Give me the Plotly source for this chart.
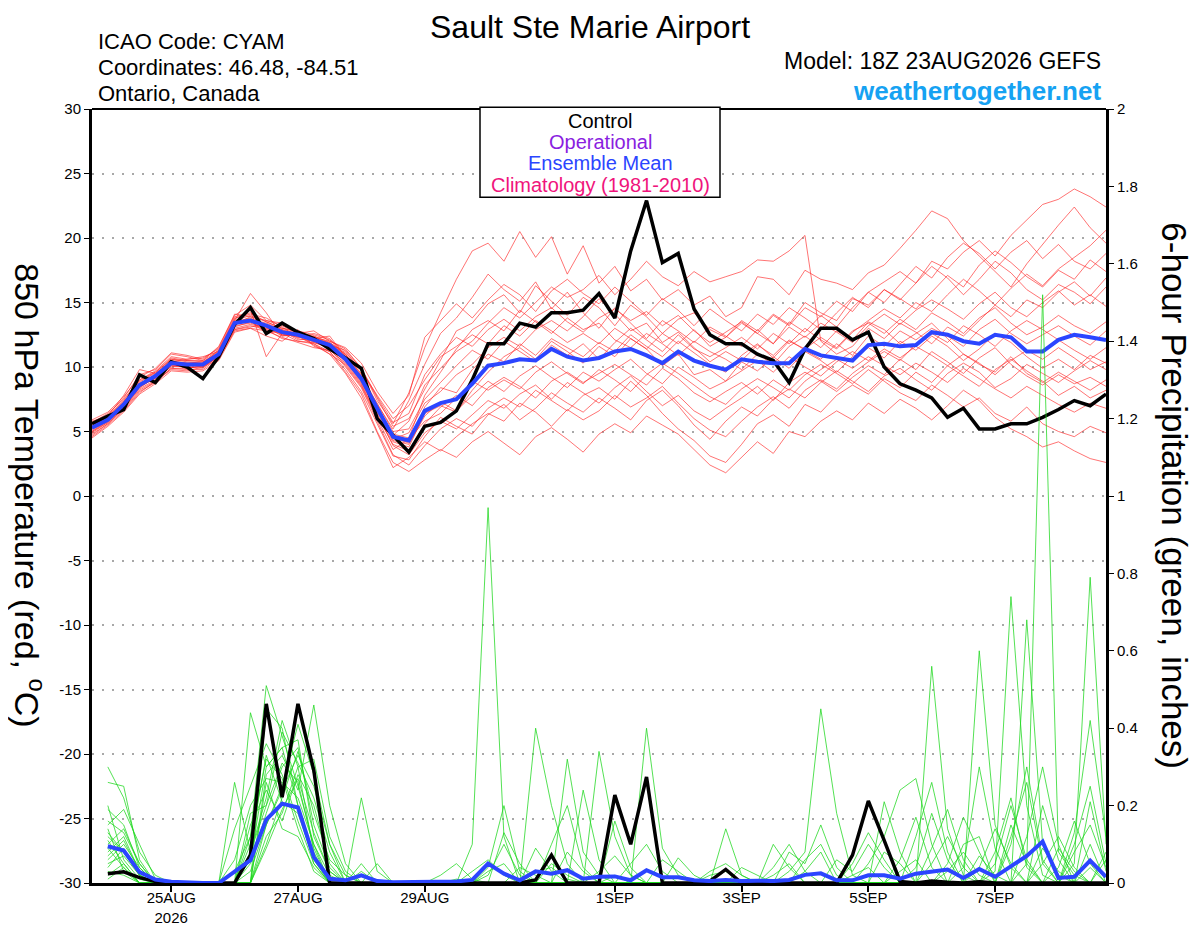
import pandas as pd
import plotly.graph_objects as go

# 6-hourly GEFS steps, 18Z 23 Aug 2026 -> 18Z 8 Sep 2026
times = pd.date_range("2026-08-23 18:00", periods=65, freq="6h")

tick_dates = ["2026-08-25", "2026-08-27", "2026-08-29", "2026-09-01",
              "2026-09-03", "2026-09-05", "2026-09-07"]
tick_text = ["25AUG<br>2026", "27AUG", "29AUG", "1SEP", "3SEP", "5SEP", "7SEP"]
temp_ticks = list(range(-30, 31, 5))
temp_tick_text = [str(v) for v in temp_ticks]  # plain hyphen, not unicode minus

# 850 hPa temperature (C)
control_t = [5.6, 6.2, 6.7, 9.4, 8.8, 10.4, 10.0, 9.1, 10.8, 13.3,
             14.6, 12.6, 13.4, 12.7, 12.2, 11.4, 10.7, 9.9, 6.0, 4.7,
             3.4, 5.4, 5.7, 6.6, 9.0, 11.8, 11.8, 13.4, 13.1, 14.2,
             14.2, 14.4, 15.7, 13.8, 19.0, 22.9, 18.1, 18.8, 14.5, 12.5,
             11.8, 11.8, 11.0, 10.5, 8.8, 11.4, 13.0, 13.0, 12.1, 12.7,
             10.0, 8.7, 8.2, 7.6, 6.1, 6.8, 5.2, 5.2, 5.6, 5.6,
             6.1, 6.7, 7.4, 7.0, 7.9]
mean_t = [5.3, 5.9, 7.1, 8.6, 9.3, 10.3, 10.2, 10.2, 11.0, 13.4,
          13.6, 13.2, 12.7, 12.5, 12.1, 11.7, 10.6, 9.1, 6.8, 4.6,
          4.3, 6.6, 7.2, 7.5, 8.7, 10.1, 10.3, 10.6, 10.5, 11.4,
          10.8, 10.5, 10.7, 11.2, 11.4, 10.9, 10.3, 11.2, 10.5, 10.1,
          9.8, 10.6, 10.4, 10.3, 10.3, 11.4, 10.9, 10.7, 10.5, 11.7,
          11.8, 11.6, 11.7, 12.7, 12.5, 12.0, 11.8, 12.5, 12.3, 11.2,
          11.2, 12.1, 12.5, 12.3, 12.1]

t_m01 = [5.6, 6.3, 7.6, 9.4, 9.8, 11.0, 10.8, 10.5, 11.6, 14.0, 14.8, 13.6, 13.2, 12.6, 12.8, 12.0,
         11.4, 9.9, 7.4, 5.6, 8.0,
         11.5, 14.2, 16.8, 19.0, 19.6, 18.2, 20.5, 18.5, 20.1, 17.2,
         19.4, 16.5, 17.8, 15.9, 16.8, 15.2, 16.0, 14.8, 15.5, 13.9,
         14.6, 17.0, 16.8, 15.6, 17.5, 16.8, 16.5, 16.0, 17.3, 17.9,
         19.2, 20.6, 22.1, 21.5, 19.8, 18.6, 17.4, 16.2, 18.0, 19.5,
         21.0, 22.4, 20.8, 19.6]
t_m02 = [4.6, 5.5, 6.6, 8.0, 8.9, 9.8, 9.7, 10.0, 10.6, 12.8, 13.0, 12.4, 12.0, 12.9, 11.6, 11.2,
         9.6, 7.9, 5.0, 2.6, 1.9,
         2.8, 3.6, 3.0, 4.2, 5.0, 4.1, 3.2, 4.6, 5.3, 4.4,
         3.4, 4.8, 5.6, 4.9, 6.2, 5.5, 4.8, 3.6, 2.4, 1.8,
         3.0, 4.2, 3.3, 5.0, 4.6, 5.8, 6.6, 5.9, 7.2, 6.4,
         7.5, 6.8, 5.9, 7.0, 8.2, 7.4, 6.1, 5.2, 4.6, 3.8,
         4.2, 3.5, 2.9, 2.6]
t_m03 = [5.4, 6.1, 7.3, 8.8, 9.6, 10.6, 10.4, 10.3, 11.3, 13.8, 14.1, 13.8, 13.1, 12.3, 12.4, 11.9,
         11.1, 9.8, 7.6, 5.4, 6.0,
         8.3, 10.5, 12.8, 13.4, 14.9, 15.6, 14.2, 16.3, 15.1, 14.0,
         15.4, 14.6, 13.2, 14.8, 13.9, 12.6, 13.7, 14.2, 12.9, 12.3,
         13.6, 12.8, 14.1, 13.3, 15.0, 14.2, 13.6, 15.3, 14.8, 16.0,
         15.2, 16.5, 17.8, 16.9, 15.6, 16.8, 18.2, 17.3, 16.0, 15.2,
         16.4, 15.8, 14.9, 16.2]
t_m04 = [5.0, 5.8, 6.9, 8.3, 9.0, 10.1, 10.0, 9.9, 10.9, 13.1, 13.5, 12.9, 12.6, 12.0, 11.8, 11.0,
         10.2, 8.6, 6.1, 4.2, 3.8,
         6.4, 7.0, 6.5, 8.2, 9.6, 10.8, 11.5, 10.6, 12.0, 11.2,
         10.3, 11.6, 10.8, 12.2, 11.4, 10.1, 11.0, 9.4, 9.8, 8.9,
         10.4, 9.7, 10.8, 9.9, 11.2, 10.5, 9.6, 10.8, 11.5, 10.7,
         12.0, 11.3, 12.4, 11.6, 10.5, 11.4, 12.6, 11.9, 10.8, 9.9,
         10.6, 9.8, 10.9, 10.3]
t_m05 = [5.8, 6.2, 7.8, 9.8, 9.5, 10.4, 10.6, 10.8, 11.2, 13.6, 15.7, 14.2, 12.4, 12.5, 12.2, 12.4,
         10.8, 9.2, 6.6, 4.8, 4.5,
         7.8, 9.6, 11.4, 12.9, 13.6, 12.8, 14.4, 13.5, 12.6, 13.8,
         12.9, 13.4, 12.1, 11.5, 12.6, 11.8, 10.9, 12.0, 11.2, 10.6,
         9.8, 11.0, 10.2, 11.6, 12.4, 11.5, 12.8, 12.1, 13.5, 12.9,
         11.8, 12.6, 13.4, 12.2, 11.0, 10.2, 9.6, 10.8, 9.5, 8.8,
         9.6, 8.9, 8.2, 9.0]
t_m06 = [4.9, 5.7, 6.8, 8.4, 9.2, 10.2, 9.9, 10.1, 10.8, 13.2, 13.4, 13.0, 12.8, 12.6, 11.9, 11.5,
         10.4, 8.8, 6.4, 3.9, 3.2,
         4.9, 5.8, 5.2, 6.3, 7.4, 6.8, 7.9, 8.6, 7.5, 8.8,
         8.0, 7.2, 8.4, 9.3, 8.1, 7.0, 7.8, 6.6, 5.9, 6.8,
         7.6, 8.5, 7.4, 8.8, 9.6, 8.9, 8.1, 9.2, 10.1, 9.4,
         10.6, 9.8, 11.2, 10.4, 9.5, 10.7, 11.5, 10.2, 9.3, 8.6,
         9.4, 8.7, 9.2, 8.5]
t_m07 = [5.5, 6.0, 7.2, 8.5, 9.4, 10.5, 10.3, 10.4, 11.1, 13.5, 13.8, 13.1, 12.4, 12.7, 12.3, 11.8,
         10.9, 9.5, 7.1, 5.2, 7.4,
         10.2, 12.6, 13.8, 15.4, 17.2, 16.0, 15.1, 16.6, 14.5, 15.8,
         14.2, 13.0, 14.6, 13.4, 12.2, 13.6, 12.8, 11.9, 13.1, 12.4,
         11.6, 12.9, 11.8, 13.5, 12.7, 14.0, 13.1, 14.6, 15.8, 15.0,
         16.4, 17.8, 16.9, 18.5, 19.6, 18.8, 17.6, 18.9, 19.8, 18.4,
         19.5, 18.2, 17.6, 18.8]
t_m08 = [5.2, 6.0, 7.0, 8.7, 9.1, 10.0, 10.2, 10.0, 11.0, 13.3, 13.7, 13.4, 12.9, 12.2, 12.0, 11.4,
         10.0, 8.4, 5.8, 3.2, 2.4,
         3.9, 5.2, 6.0, 5.4, 6.8, 7.6, 6.9, 8.2, 7.4, 6.6,
         7.8, 8.4, 7.5, 8.9, 7.8, 6.4, 5.2, 4.3, 3.1, 2.6,
         4.0, 5.6, 6.3, 5.4, 7.1, 6.5, 7.8, 8.6, 7.9, 9.1,
         8.4, 9.6, 8.8, 10.1, 9.3, 8.5, 9.8, 10.6, 9.7, 8.9,
         7.8, 8.5, 7.6, 8.2]
t_m09 = [5.7, 6.4, 7.5, 9.0, 9.7, 10.8, 10.6, 10.7, 11.4, 13.9, 14.2, 13.5, 13.0, 12.8, 12.5, 12.1,
         11.2, 9.7, 7.8, 6.0, 7.0,
         9.0, 10.8, 11.6, 12.5, 11.8, 13.2, 12.4, 13.6, 12.8, 11.9,
         12.6, 11.8, 13.0, 12.2, 11.4, 12.6, 11.8, 12.9, 11.6, 12.3,
         13.4, 12.6, 14.0, 13.2, 14.6, 13.9, 15.1, 14.3, 15.8, 16.6,
         17.4, 16.5, 18.2, 17.6, 18.9, 19.8, 18.6, 20.2, 21.4, 22.6,
         23.0, 23.8, 23.2, 22.4]
t_m10 = [4.8, 5.6, 6.7, 8.1, 8.8, 9.9, 9.8, 9.8, 10.7, 12.9, 13.1, 13.3, 12.5, 12.4, 11.7, 11.0,
         9.5, 7.6, 4.9, 2.2, 3.0,
         4.2, 3.5, 4.6, 5.6, 6.4, 5.8, 7.2, 6.5, 5.4, 6.7,
         5.9, 6.6, 7.8, 6.9, 7.6, 8.5, 7.2, 6.0, 5.1, 4.6,
         5.8, 6.9, 7.7, 6.8, 8.2, 9.0, 8.3, 9.5, 10.4, 11.2,
         10.5, 11.8, 12.6, 11.9, 13.2, 12.5, 11.6, 12.8, 13.6, 12.9,
         12.1, 11.3, 10.6, 11.5]
t_m11 = [5.3, 5.9, 7.1, 8.6, 9.3, 10.3, 10.1, 10.2, 11.0, 13.4, 13.6, 12.6, 12.8, 12.1, 12.2, 11.6,
         10.6, 9.0, 6.9, 4.4, 4.9,
         7.2, 8.1, 9.4, 10.2, 11.5, 12.3, 11.6, 12.9, 13.6, 12.8,
         13.9, 15.3, 14.1, 12.8, 13.4, 11.9, 12.7, 11.5, 10.4, 11.2,
         10.5, 11.7, 10.9, 12.1, 11.3, 10.6, 11.8, 10.9, 12.4, 11.6,
         12.8, 12.1, 13.0, 12.4, 11.6, 12.9, 13.7, 12.6, 11.8, 12.5,
         13.2, 12.4, 11.7, 12.8]
t_m12 = [5.9, 6.5, 7.7, 9.2, 9.9, 11.1, 10.9, 10.6, 11.5, 14.1, 13.9, 13.2, 12.7, 12.5, 12.4, 11.8,
         11.0, 9.3, 7.0, 4.7, 5.8,
         8.6, 9.9, 11.2, 12.0, 13.4, 14.6, 13.8, 15.0, 16.2, 15.4,
         16.0, 17.1, 15.6, 16.8, 18.2, 17.0, 16.3, 17.4, 16.6, 17.0,
         17.4, 18.3, 18.2, 19.0, 20.2, 12.0, 11.0, 11.6, 13.0, 12.2,
         13.4, 12.7, 11.8, 13.1, 12.4, 13.6, 14.8, 13.9, 15.2, 14.6,
         15.8, 16.6, 15.5, 16.9]
t_m13 = [4.5, 5.4, 6.5, 7.9, 8.7, 9.7, 9.6, 9.7, 10.5, 12.7, 13.0, 12.8, 12.3, 11.9, 11.5, 11.3,
         10.3, 8.7, 6.2, 4.0, 3.5,
         5.6, 6.9, 7.8, 7.0, 8.4, 9.2, 8.5, 7.6, 8.9, 9.6,
         8.8, 9.5, 10.2, 9.4, 8.6, 9.9, 9.1, 8.0, 7.3, 8.1,
         8.8, 7.9, 9.0, 8.2, 9.4, 10.2, 9.5, 8.7, 9.8, 8.9,
         8.0, 7.4, 8.6, 7.8, 6.9, 7.6, 6.4, 5.8, 6.9, 5.6,
         5.0, 4.6, 5.4, 4.9]
t_m14 = [5.1, 5.8, 7.0, 8.4, 9.2, 10.2, 10.0, 10.3, 10.9, 13.3, 13.9, 13.6, 13.4, 12.6, 12.1, 11.9,
         11.0, 9.4, 6.8, 4.5, 4.1,
         6.9, 8.4, 8.0, 9.8, 11.0, 10.4, 11.8, 10.9, 12.2, 11.5,
         10.8, 11.9, 11.2, 12.5, 11.6, 10.8, 12.0, 11.1, 10.2, 9.6,
         10.9, 11.8, 10.7, 12.0, 11.4, 12.3, 11.5, 12.8, 13.4, 12.6,
         13.7, 12.9, 14.2, 13.5, 12.6, 13.8, 14.6, 13.4, 12.5, 13.1,
         14.0, 13.2, 12.6, 13.5]
t_m15 = [5.4, 6.1, 7.3, 8.9, 9.5, 10.6, 10.5, 10.4, 11.2, 13.7, 14.4, 10.8, 12.6, 12.3, 12.6, 12.2,
         10.8, 9.1, 7.2, 5.0, 5.2,
         7.5, 8.8, 10.1, 11.3, 10.6, 12.0, 11.2, 10.4, 11.7, 10.9,
         11.8, 10.6, 11.9, 13.0, 12.1, 11.2, 12.5, 11.4, 10.8, 11.5,
         12.3, 11.4, 12.6, 11.8, 13.0, 12.1, 11.4, 12.7, 13.6, 14.5,
         13.8, 15.0, 14.3, 15.6, 16.8, 15.9, 14.8, 16.1, 17.2, 16.3,
         17.6, 18.5, 19.4, 20.6]
t_m16 = [5.0, 5.7, 6.9, 8.5, 9.1, 10.1, 10.0, 10.0, 10.8, 13.0, 13.3, 13.0, 12.5, 12.4, 11.8, 11.2,
         9.8, 8.1, 5.6, 3.1, 2.8,
         4.6, 6.1, 5.4, 4.8, 6.3, 7.1, 5.9, 6.8, 8.0, 7.2,
         6.5, 7.6, 6.8, 5.9, 7.4, 8.2, 7.0, 5.5, 4.4, 5.8,
         6.9, 6.2, 7.5, 8.3, 7.6, 8.8, 9.7, 8.9, 8.1, 9.3,
         9.9, 9.0, 8.2, 9.5, 10.3, 9.6, 8.4, 9.1, 10.2, 9.5,
         8.8, 9.7, 10.5, 9.8]
t_m17 = [5.6, 6.2, 7.4, 9.0, 9.6, 10.7, 10.5, 10.5, 11.3, 13.6, 14.0, 13.5, 13.0, 12.7, 12.3, 12.0,
         11.5, 10.3, 8.1, 6.4, 7.8,
         12.3, 13.6, 14.9, 13.8, 15.2, 16.4, 15.6, 14.3, 15.9, 16.8,
         15.7, 14.9, 16.2, 15.1, 14.0, 15.3, 14.4, 13.2, 14.5, 13.6,
         12.8, 14.1, 13.3, 14.6, 13.8, 12.9, 14.2, 15.4, 14.6, 16.0,
         15.3, 14.5, 15.8, 17.1, 16.2, 17.9, 19.0, 18.1, 17.0, 16.2,
         17.5, 16.8, 18.3, 17.4]
t_m18 = [4.7, 5.6, 6.8, 8.2, 8.9, 9.9, 9.9, 10.1, 10.7, 12.9, 13.2, 12.9, 12.2, 12.0, 11.9, 11.5,
         10.5, 8.9, 6.5, 4.3, 4.0,
         6.2, 7.3, 6.6, 7.8, 8.9, 8.1, 9.3, 10.1, 9.2, 8.4,
         9.6, 8.9, 9.8, 10.6, 9.5, 8.7, 10.0, 9.2, 8.3, 8.9,
         9.7, 10.5, 9.6, 10.8, 10.0, 9.3, 10.4, 11.2, 10.5, 11.4,
         10.7, 11.6, 10.9, 10.1, 11.0, 10.3, 9.4, 10.5, 11.3, 10.6,
         11.5, 10.7, 9.8, 10.4]
t_m19 = [5.3, 6.0, 7.2, 8.7, 9.4, 10.4, 10.3, 10.2, 11.1, 13.5, 13.7, 13.3, 12.9, 12.6, 12.3, 11.7,
         11.3, 9.9, 7.7, 5.7, 6.4,
         9.4, 11.0, 12.3, 11.6, 12.9, 13.7, 12.8, 13.9, 14.6, 13.5,
         12.7, 13.8, 14.5, 13.6, 14.3, 13.2, 14.0, 12.8, 11.9, 12.7,
         13.5, 12.6, 11.8, 13.1, 12.3, 13.4, 12.7, 11.9, 13.2, 14.1,
         13.3, 14.4, 15.2, 14.5, 13.7, 14.9, 15.8, 14.6, 13.9, 15.0,
         15.9, 14.8, 15.6, 14.7]
t_m20 = [5.2, 5.9, 7.0, 8.6, 9.2, 10.3, 10.2, 10.2, 11.0, 13.4, 13.6, 13.2, 12.7, 12.5, 12.0, 11.6,
         10.1, 8.5, 6.0, 3.6, 4.4,
         5.8, 6.4, 7.6, 8.9, 8.2, 9.0, 8.3, 9.6, 10.4, 9.5,
         8.7, 9.8, 9.0, 8.1, 9.4, 10.3, 9.5, 8.6, 7.7, 7.1,
         8.3, 9.1, 8.4, 7.6, 8.9, 9.8, 10.6, 9.9, 10.8, 10.1,
         9.4, 10.3, 9.6, 8.8, 9.9, 9.1, 8.3, 7.6, 8.5, 7.8,
         7.1, 6.5, 7.2, 6.8]

temp_members = [t_m01, t_m02, t_m03, t_m04, t_m05, t_m06, t_m07, t_m08, t_m09, t_m10,
                t_m11, t_m12, t_m13, t_m14, t_m15, t_m16, t_m17, t_m18, t_m19, t_m20]

# 6-hour precipitation (inches), valid from the first 6 h step onward
control_p = [0.024, 0.029, 0.014, 0.004, 0, 0, 0, 0,
             0, 0.072, 0.463, 0.222, 0.463, 0.291, 0, 0,
             0, 0, 0, 0, 0, 0, 0, 0,
             0, 0, 0, 0.008, 0.072, 0, 0, 0,
             0.227, 0.10, 0.274, 0, 0, 0, 0.005, 0.035,
             0, 0, 0, 0, 0, 0, 0, 0.072,
             0.212, 0.11, 0.004, 0, 0.005, 0.002, 0, 0.003,
             0, 0, 0, 0, 0, 0, 0, 0]
mean_p = [0.095, 0.084, 0.028, 0.009, 0.003, 0.001, 0, 0,
          0.028, 0.059, 0.164, 0.205, 0.195, 0.067, 0.011, 0.007,
          0.020, 0.005, 0.002, 0.002, 0.002, 0.003, 0.004, 0.008,
          0.05, 0.024, 0.007, 0.03, 0.024, 0.033, 0.011, 0.016,
          0.017, 0.007, 0.033, 0.015, 0.015, 0.007, 0.005, 0.008,
          0.005, 0.006, 0.005, 0.008, 0.021, 0.025, 0.007, 0.007,
          0.02, 0.02, 0.011, 0.024, 0.03, 0.035, 0.013, 0.036,
          0.016, 0.042, 0.07, 0.107, 0.013, 0.016, 0.058, 0.016]

p_m01 = [0.30, 0.22, 0.08, 0.02, 0, 0, 0, 0, 0, 0.12, 0.51, 0.38, 0.25, 0.10, 0.02, 0,
         0, 0, 0, 0, 0, 0, 0, 0, 0.04, 0.2, 0.03, 0, 0, 0, 0, 0,
         0, 0, 0, 0, 0, 0, 0, 0, 0, 0, 0, 0.03, 0.08, 0.45, 0.18, 0.02,
         0, 0, 0, 0, 0, 0, 0, 0, 0, 0.12, 0.26, 0.05, 0, 0, 0.04, 0]
p_m02 = [0.26, 0.25, 0.06, 0, 0, 0, 0, 0, 0.26, 0.08, 0.22, 0.42, 0.30, 0.08, 0, 0,
         0.22, 0.03, 0, 0, 0, 0, 0, 0.1, 0.97, 0.12, 0, 0, 0, 0, 0, 0,
         0.02, 0, 0, 0, 0, 0, 0, 0, 0, 0, 0, 0, 0, 0, 0, 0,
         0, 0.21, 0.08, 0, 0.56, 0.14, 0.02, 0, 0, 0, 0, 0, 0, 0.05, 0.79, 0.1]
p_m03 = [0.19, 0.15, 0.04, 0, 0, 0, 0, 0, 0, 0.44, 0.30, 0.35, 0.37, 0.12, 0.03, 0,
         0, 0, 0, 0, 0, 0, 0, 0, 0, 0, 0, 0.40, 0.2, 0.05, 0, 0,
         0, 0, 0, 0, 0, 0, 0, 0, 0, 0, 0, 0, 0, 0, 0, 0,
         0.05, 0.12, 0.24, 0.27, 0.1, 0, 0, 0.6, 0.15, 0.04, 0, 0, 0, 0, 0, 0]
p_m04 = [0.15, 0.19, 0.1, 0.01, 0, 0, 0, 0, 0, 0, 0.28, 0.33, 0.24, 0.46, 0.2, 0.05,
         0, 0, 0, 0, 0, 0, 0, 0, 0, 0, 0, 0, 0, 0.32, 0.08, 0.02,
         0, 0, 0, 0, 0, 0, 0, 0, 0, 0, 0, 0, 0, 0, 0, 0,
         0, 0, 0, 0, 0, 0, 0, 0, 0.03, 0.74, 0.2, 0.02, 0, 0, 0, 0.08]
p_m05 = [0.12, 0.08, 0.02, 0, 0, 0, 0, 0, 0.14, 0.25, 0.36, 0.28, 0.16, 0.05, 0, 0,
         0, 0, 0, 0, 0, 0, 0, 0, 0, 0, 0, 0, 0, 0, 0, 0.34,
         0.12, 0.02, 0, 0, 0, 0, 0, 0, 0, 0, 0.1, 0.04, 0, 0, 0, 0,
         0, 0, 0, 0, 0, 0.05, 0.17, 0.08, 0, 0, 0.68, 0.1, 0.02, 0, 0, 0]
p_m06 = [0.1, 0.14, 0.05, 0, 0, 0, 0, 0, 0, 0.18, 0.2, 0.39, 0.31, 0.22, 0.08, 0,
         0, 0, 0, 0, 0, 0, 0, 0, 0, 0, 0, 0, 0, 0, 0, 0,
         0, 0, 0.4, 0.09, 0.02, 0, 0, 0, 0, 0, 0, 0, 0, 0, 0, 0,
         0, 0, 0, 0, 0, 0, 0, 0, 0, 0, 0.05, 1.52, 0.08, 0.02, 0, 0]
p_m07 = [0.08, 0.12, 0.03, 0, 0, 0, 0, 0, 0, 0, 0.15, 0.25, 0.41, 0.28, 0.1, 0.02,
         0, 0, 0, 0, 0, 0, 0, 0, 0, 0.13, 0.05, 0, 0, 0, 0, 0,
         0, 0, 0, 0, 0, 0, 0, 0.14, 0.02, 0, 0, 0, 0, 0, 0, 0,
         0, 0, 0, 0.12, 0.26, 0.08, 0, 0, 0, 0, 0, 0, 0, 0.1, 0.25, 0.05]
p_m08 = [0.2, 0.06, 0.01, 0, 0, 0, 0, 0, 0, 0.1, 0.33, 0.21, 0.18, 0.06, 0, 0,
         0, 0, 0, 0, 0, 0, 0, 0, 0, 0, 0, 0, 0.1, 0.2, 0.04, 0,
         0, 0, 0, 0, 0, 0, 0, 0, 0, 0, 0, 0, 0, 0, 0, 0.05,
         0.13, 0.06, 0, 0, 0, 0, 0, 0.04, 0.14, 0.05, 0, 0, 0.09, 0.03, 0, 0]
p_m09 = [0.06, 0.1, 0.04, 0, 0, 0, 0, 0, 0, 0, 0.45, 0.4, 0.2, 0.05, 0, 0,
         0, 0, 0, 0, 0, 0.02, 0.05, 0.01, 0, 0, 0, 0, 0, 0, 0.24, 0.06,
         0, 0, 0, 0, 0, 0, 0, 0, 0, 0, 0, 0.08, 0.05, 0.15, 0.04, 0,
         0, 0, 0, 0, 0, 0, 0.04, 0.3, 0.09, 0, 0, 0, 0, 0, 0.21, 0.03]
p_m10 = [0.04, 0.09, 0.02, 0, 0, 0, 0, 0, 0, 0.05, 0.18, 0.3, 0.35, 0.15, 0.04, 0,
         0.05, 0, 0, 0, 0, 0, 0, 0, 0, 0, 0, 0, 0, 0, 0, 0,
         0.16, 0.04, 0, 0, 0, 0, 0, 0, 0, 0, 0, 0, 0.03, 0.08, 0, 0,
         0, 0, 0, 0, 0.09, 0.19, 0.06, 0, 0, 0, 0, 0.05, 0.12, 0.04, 0, 0]
p_m11 = [0.09, 0.04, 0, 0, 0, 0, 0, 0, 0.06, 0.2, 0.27, 0.26, 0.22, 0.1, 0, 0,
         0, 0.05, 0, 0, 0, 0, 0, 0, 0.02, 0.1, 0.02, 0, 0, 0, 0, 0,
         0, 0, 0, 0, 0.065, 0.02, 0, 0, 0, 0, 0, 0, 0, 0, 0, 0,
         0, 0, 0.06, 0.17, 0.04, 0, 0, 0, 0, 0.1, 0.3, 0.06, 0, 0, 0, 0]
p_m12 = [0.14, 0.03, 0, 0, 0, 0, 0, 0, 0, 0, 0.12, 0.18, 0.3, 0.32, 0.12, 0.03,
         0, 0, 0, 0, 0, 0, 0, 0, 0, 0, 0, 0.09, 0.03, 0, 0, 0,
         0, 0, 0, 0.06, 0.03, 0, 0, 0, 0, 0, 0.04, 0.1, 0.03, 0, 0, 0,
         0, 0, 0, 0, 0, 0, 0, 0, 0, 0, 0, 0, 0, 0.13, 0.42, 0.12]
p_m13 = [0.05, 0.07, 0.02, 0, 0, 0, 0, 0, 0, 0.15, 0.24, 0.16, 0.28, 0.2, 0.05, 0,
         0, 0, 0, 0, 0, 0, 0, 0, 0, 0, 0, 0, 0, 0.08, 0.03, 0,
         0, 0, 0, 0, 0, 0, 0, 0, 0, 0, 0, 0, 0, 0, 0.06, 0.03,
         0.1, 0.04, 0, 0, 0, 0, 0, 0, 0.05, 0.2, 0.06, 0, 0, 0, 0, 0]
p_m14 = [0.11, 0.05, 0, 0, 0, 0, 0, 0, 0.03, 0.12, 0.32, 0.27, 0.14, 0.03, 0, 0,
         0, 0, 0, 0, 0, 0, 0, 0.03, 0.06, 0.02, 0, 0, 0, 0, 0, 0,
         0, 0, 0, 0, 0, 0, 0.03, 0.05, 0.02, 0, 0, 0, 0, 0, 0, 0,
         0, 0.08, 0.05, 0, 0, 0, 0.1, 0.12, 0, 0, 0, 0.2, 0.06, 0, 0, 0]
p_m15 = [0.02, 0.05, 0, 0, 0, 0, 0, 0, 0, 0, 0.1, 0.22, 0.34, 0.18, 0.06, 0.02,
         0, 0, 0, 0, 0, 0, 0, 0, 0, 0, 0.04, 0.02, 0, 0, 0, 0,
         0, 0, 0, 0, 0, 0, 0, 0, 0, 0, 0, 0, 0, 0, 0, 0,
         0, 0, 0, 0.04, 0.18, 0.06, 0, 0, 0, 0, 0, 0, 0, 0.08, 0.15, 0.04]
p_m16 = [0.07, 0.11, 0.03, 0, 0, 0, 0, 0, 0, 0.08, 0.2, 0.31, 0.26, 0.09, 0, 0,
         0, 0, 0, 0, 0, 0, 0, 0, 0, 0, 0, 0, 0, 0, 0, 0,
         0, 0.05, 0.1, 0.03, 0, 0, 0, 0, 0, 0, 0, 0, 0.06, 0.1, 0.02, 0,
         0, 0, 0, 0, 0, 0, 0, 0.07, 0.02, 0, 0.12, 0.3, 0.1, 0, 0, 0]
p_m17 = [0.03, 0.02, 0, 0, 0, 0, 0, 0, 0, 0, 0.26, 0.14, 0.12, 0.04, 0, 0,
         0.03, 0, 0, 0, 0, 0, 0.01, 0, 0, 0, 0, 0, 0.05, 0.02, 0, 0,
         0, 0, 0, 0, 0, 0, 0, 0, 0.04, 0.02, 0, 0, 0, 0, 0, 0,
         0, 0, 0, 0, 0, 0.03, 0.08, 0.02, 0, 0, 0, 0, 0.04, 0.16, 0.05, 0]
p_m18 = [0.13, 0.08, 0.02, 0, 0, 0, 0, 0, 0, 0.03, 0.15, 0.24, 0.33, 0.25, 0.1, 0,
         0, 0, 0, 0, 0, 0, 0, 0, 0.03, 0.05, 0, 0, 0, 0, 0, 0,
         0, 0, 0, 0, 0, 0, 0, 0, 0, 0, 0, 0, 0, 0, 0, 0.02,
         0.04, 0, 0.03, 0.06, 0, 0, 0, 0, 0, 0.15, 0.05, 0, 0, 0, 0, 0]
p_m19 = [0.01, 0.04, 0, 0, 0, 0, 0, 0, 0, 0.06, 0.3, 0.35, 0.2, 0.07, 0, 0,
         0, 0, 0, 0, 0, 0, 0, 0, 0, 0, 0, 0, 0, 0, 0, 0.03,
         0.07, 0.02, 0, 0, 0, 0, 0, 0, 0, 0, 0.02, 0.05, 0, 0, 0, 0,
         0, 0, 0, 0, 0, 0, 0, 0, 0.08, 0.22, 0.04, 0, 0, 0, 0, 0.06]
p_m20 = [0.16, 0.13, 0.05, 0, 0, 0, 0, 0, 0, 0, 0.09, 0.19, 0.27, 0.13, 0.03, 0,
         0, 0, 0, 0, 0, 0, 0, 0, 0, 0, 0, 0.03, 0.04, 0.01, 0, 0,
         0, 0, 0, 0, 0, 0, 0.02, 0.03, 0, 0, 0, 0, 0, 0, 0, 0,
         0, 0, 0, 0, 0.05, 0.12, 0.04, 0, 0, 0, 0, 0.09, 0.03, 0, 0.1, 0]

precip_members = [p_m01, p_m02, p_m03, p_m04, p_m05, p_m06, p_m07, p_m08, p_m09, p_m10,
                  p_m11, p_m12, p_m13, p_m14, p_m15, p_m16, p_m17, p_m18, p_m19, p_m20]

FONT = "Liberation Sans, Arial, Helvetica, sans-serif"
RED = "rgba(255,40,40,0.72)"
GREEN = "rgba(30,215,30,0.85)"
BLUE = "#2b45ff"

fig = go.Figure()

for m in temp_members:
    fig.add_trace(go.Scatter(x=times, y=m, mode="lines",
                             line=dict(color=RED, width=0.9), hoverinfo="skip"))
fig.add_trace(go.Scatter(x=times, y=control_t, mode="lines",
                         line=dict(color="black", width=3.5), hoverinfo="skip"))
fig.add_trace(go.Scatter(x=times, y=mean_t, mode="lines",
                         line=dict(color=BLUE, width=4), hoverinfo="skip"))

for m in precip_members:
    fig.add_trace(go.Scatter(x=times[1:], y=m, mode="lines", yaxis="y2",
                             line=dict(color=GREEN, width=0.9), hoverinfo="skip"))
fig.add_trace(go.Scatter(x=times[1:], y=control_p, mode="lines", yaxis="y2",
                         line=dict(color="black", width=3.5), hoverinfo="skip"))
fig.add_trace(go.Scatter(x=times[1:], y=mean_p, mode="lines", yaxis="y2",
                         line=dict(color=BLUE, width=4), hoverinfo="skip"))

# the page body adds ~8px offset, so the layout margins are pulled in by 8px
fig.update_layout(
    width=1200, height=927,
    margin=dict(l=84, r=102, t=101, b=52, autoexpand=False),
    paper_bgcolor="white", plot_bgcolor="white",
    font=dict(family=FONT, color="black"),
    showlegend=False, hovermode=False,
    xaxis=dict(range=[times[0], times[-1]], tickvals=tick_dates, ticktext=tick_text,
               ticks="outside", ticklen=6, tickwidth=1.5, tickcolor="black",
               ticklabelstandoff=-7,
               showline=True, linewidth=3, linecolor="black", automargin=False,
               showgrid=False, zeroline=False, tickfont=dict(size=15)),
    yaxis=dict(range=[-30, 30], tickvals=temp_ticks, ticktext=temp_tick_text,
               ticks="outside", ticklen=5, tickwidth=1, tickcolor="black",
               showline=True, linewidth=3, linecolor="black", automargin=False,
               showgrid=True, gridcolor="#a8a8a8", gridwidth=1.5, griddash="2px,8px",
               zeroline=False, tickfont=dict(size=15)),
    yaxis2=dict(range=[0, 2], dtick=0.2, overlaying="y", side="right",
                ticks="outside", ticklen=5, tickwidth=1, tickcolor="black",
                showline=True, linewidth=3, linecolor="black", automargin=False,
                showgrid=False, zeroline=False, tickfont=dict(size=15)),
)

# top frame line
fig.add_shape(type="line", xref="paper", yref="paper", x0=0, x1=1, y0=1, y1=1,
              line=dict(color="black", width=2))


def py(px):
    # screen row -> paper y
    return (882.7 - px) / 774.0


def px_x(px):
    # screen column -> paper x
    return (px - 92.0) / 1014.0


fig.add_annotation(text="Sault Ste Marie Airport", xref="paper", yref="paper",
                   x=px_x(590), y=py(27), showarrow=False, font=dict(size=32),
                   xanchor="center", yanchor="middle")
for txt, yy in [("ICAO Code: CYAM", 41), ("Coordinates: 46.48, -84.51", 67),
                ("Ontario, Canada", 93)]:
    fig.add_annotation(text=txt, xref="paper", yref="paper", x=px_x(96), y=py(yy),
                       showarrow=False, font=dict(size=22), xanchor="left", yanchor="middle")
fig.add_annotation(text="Model: 18Z 23AUG2026 GEFS", xref="paper", yref="paper",
                   x=px_x(1103), y=py(61), showarrow=False, font=dict(size=23),
                   xanchor="right", yanchor="middle")
fig.add_annotation(text="<b>weathertogether.net</b>", xref="paper", yref="paper",
                   x=px_x(1103), y=py(91), showarrow=False,
                   font=dict(size=26, color="#16a2f2"), xanchor="right", yanchor="middle")

# legend box
fig.add_shape(type="rect", xref="paper", yref="paper",
              x0=px_x(480), x1=px_x(720), y0=py(197), y1=py(107),
              fillcolor="white", line=dict(color="black", width=1.5), layer="above")
legend_rows = [("Control", "black", 121), ("Operational", "#8a1ee0", 142),
               ("Ensemble Mean", "#2b45ff", 163), ("Climatology (1981-2010)", "#f0147c", 185)]
for txt, col, yy in legend_rows:
    fig.add_annotation(text=txt, xref="paper", yref="paper", x=px_x(600), y=py(yy),
                       showarrow=False, font=dict(size=20, color=col),
                       xanchor="center", yanchor="middle")

fig.add_annotation(text="850 hPa Temperature (red, <sup>o</sup>C)", xref="paper", yref="paper",
                   x=px_x(30), y=py(495), textangle=90, showarrow=False,
                   font=dict(size=34), xanchor="center", yanchor="middle")
fig.add_annotation(text="6-hour Precipitation (green, inches)", xref="paper", yref="paper",
                   x=px_x(1175), y=py(495), textangle=90, showarrow=False,
                   font=dict(size=35), xanchor="center", yanchor="middle")

fig.write_html("out.html")
